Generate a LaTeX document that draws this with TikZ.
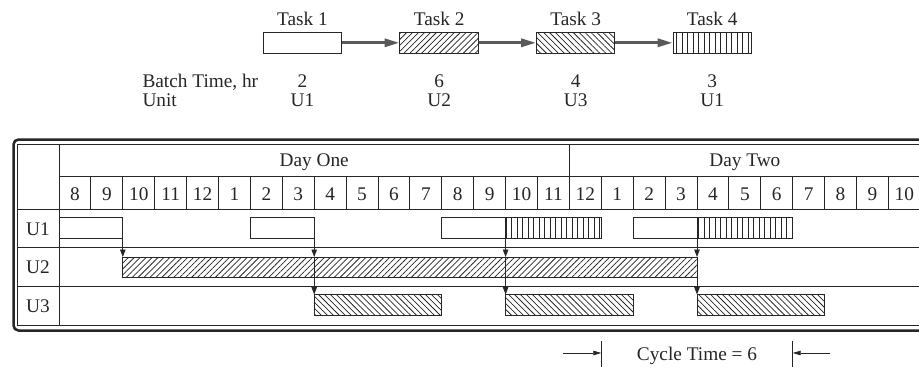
\documentclass[tikz,border=0pt]{standalone}
\usepackage{fontspec}
\setmainfont{Liberation Serif}
\usetikzlibrary{positioning,calc,arrows.meta,patterns.meta}

\newcommand{\hw}{31.9} % width of one hour column

\begin{document}
\begin{tikzpicture}[
    x=1pt, y=-1pt,
    font=\fontsize{19.3}{22}\selectfont,
    every node/.style={text=black!85},
    line/.style={draw=black!85, line width=0.9pt},
    task/.style={
        rectangle,
        draw=black!85,
        line width=0.9pt,
        minimum width=78.4pt,
        minimum height=21pt,
        inner sep=0pt
      },
    idle/.style={fill=white},
    fwd/.style={pattern={Lines[angle=45,distance=4.2pt,line width=0.75pt]}, pattern color=black!85},
    bwd/.style={pattern={Lines[angle=-45,distance=4.2pt,line width=0.75pt]}, pattern color=black!85},
    vert/.style={pattern={Lines[angle=90,distance=5.5pt,line width=0.75pt]}, pattern color=black!85},
    bar/.style={
        rectangle,
        draw=black!85,
        line width=0.9pt,
        minimum height=20.5pt,
        inner sep=0pt,
        outer sep=0pt,
        anchor=north west
      },
    flow/.style={-{Triangle[length=15pt,width=8pt]},line width=3pt,black!65},
    drop/.style={-{Triangle[length=7.5pt,width=5.5pt]},line width=0.9pt,black!85},
    cyc/.style={-{Triangle[length=8pt,width=4.5pt]},line width=0.7pt,black!85}
    ]

    \path[use as bounding box, fill=white] (0,0) rectangle (919,368);

    % recipe
    \node[task,idle] (t1) at (302.5,42.8) {};
    \node[task,fwd,right=57.4pt of t1] (t2) {};
    \node[task,bwd,right=57.4pt of t2] (t3) {};
    \node[task,vert,right=57.4pt of t3] (t4) {};

    \foreach \i in {1,...,4}
      \node[above=6.3pt of t\i.north, anchor=base] (n\i) {Task \i};

    \draw[flow] (t1)--(t2);
    \draw[flow] (t2)--(t3);
    \draw[flow] (t3)--(t4);

    \node[anchor=base west] (bt) at (139,87) {Batch Time, hr};
    \node[anchor=base west] (un) at (139,106) {Unit};
    \foreach \i/\t/\u in {1/2/U1,2/6/U2,3/4/U3,4/3/U1} {
      \node[anchor=base] (h\i) at (t\i.south |- bt.base) {\t};
      \node[anchor=base] (w\i) at (t\i.south |- un.base) {\u};
    }

    % chart frame and grid
    \draw[line width=2.5pt, black!85, rounded corners=5pt] (13.5,139.5) rectangle (930,330.5);
    \draw[line] (17.5,144.5) rectangle (924,325.5);
    \draw[line] (59,144.5)--(59,325.5);
    \draw[line] (59,176)--(924,176);
    \foreach \y in {209,247.5,286}
      \draw[line] (17.5,\y)--(924,\y);
    \draw[line] ({59+16*\hw},144.5)--({59+16*\hw},176);
    \foreach \k in {1,...,26}
      \draw[line] ({59+\k*\hw},176)--({59+\k*\hw},209);

    \node[anchor=base] (d1) at ({59+8*\hw},166.7) {Day One};
    \node[anchor=base] (d2) at ({59+21.5*\hw},166.7) {Day Two};
    \foreach \h [count=\k from 0] in {8,9,10,11,12,1,2,3,4,5,6,7,8,9,10,11,12,1,2,3,4,5,6,7,8,9,10}
      \node[anchor=base] (hr\k) at ({59+(\k+0.5)*\hw},200) {\h};

    \foreach \u/\y in {U1/235,U2/273.3,U3/312}
      \node[anchor=base] (r\u) at (38,\y) {\u};

    % batches
    \foreach \name/\ytop/\xa/\xb/\kind in {
        u1a/217.5/0/2/idle, u1b/217.5/6/8/idle, u1c/217.5/12/14/idle,
        u1d/217.5/14/17/vert, u1e/217.5/18/20/idle, u1f/217.5/20/23/vert,
        u2a/257/2/8/fwd, u2b/257/8/14/fwd, u2c/257/14/20/fwd,
        u3a/294.5/8/12/bwd, u3b/294.5/14/18/bwd, u3c/294.5/20/24/bwd}
      \node[bar,\kind,minimum width={(\xb-\xa)*\hw}] (\name) at ({59+\xa*\hw},\ytop) {};

    \draw[drop] (u1a.north east)--(u2a.north west);
    \draw[drop] (u1b.north east)--(u2b.north west);
    \draw[drop] (u2b.north west)--(u3a.north west);
    \draw[drop] (u1c.north east)--(u2c.north west);
    \draw[drop] (u2c.north west)--(u3b.north west);
    \draw[drop] (u1e.north east)--(u2c.north east);
    \draw[drop] (u2c.north east)--(u3c.north west);

    % cycle time
    \coordinate (cl) at ({59+17*\hw},353);
    \coordinate (cr) at ({59+23*\hw},353);
    \coordinate (al) at (563,353);
    \coordinate (ar) at (830,353);
    \draw[line, line width=0.8pt] ($(cl)+(0,-12)$)--($(cl)+(0,14)$);
    \draw[line, line width=0.8pt] ($(cr)+(0,-12)$)--($(cr)+(0,14)$);
    \draw[cyc] (al)--(cl);
    \draw[cyc] (ar)--(cr);
    \node[anchor=base] (ct) at ($(cl)!0.5!(cr)+(0,7)$) {Cycle Time = 6};

  \end{tikzpicture}
\end{document}
